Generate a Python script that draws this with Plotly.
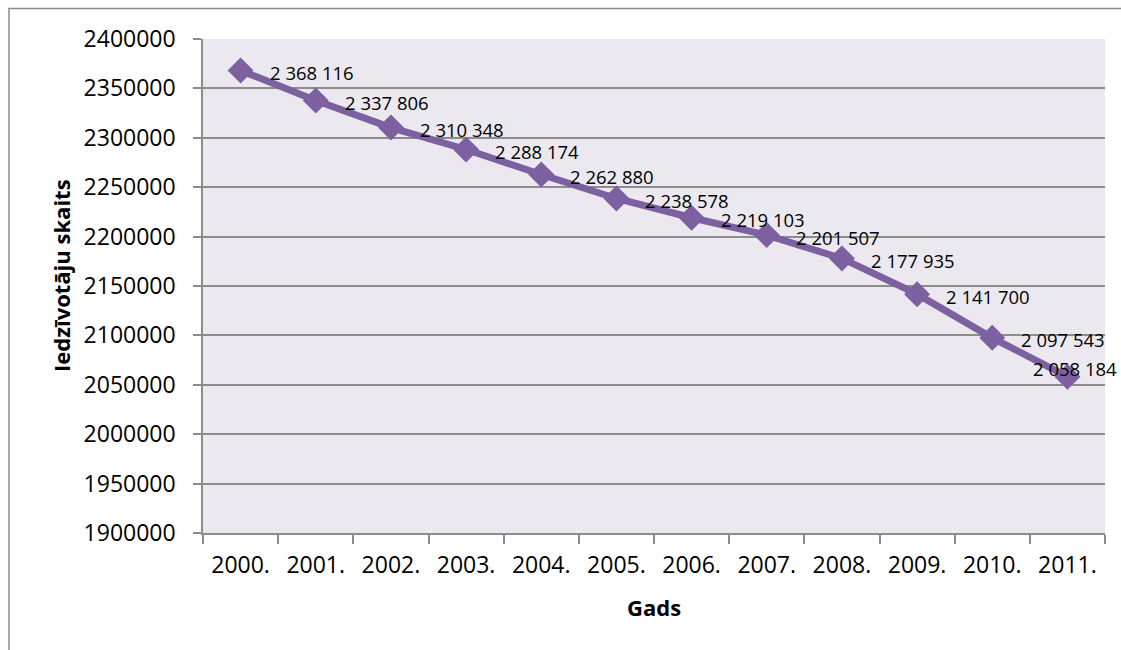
import plotly.graph_objects as go

# Latvia population by year
years = ["2000.", "2001.", "2002.", "2003.", "2004.", "2005.",
         "2006.", "2007.", "2008.", "2009.", "2010.", "2011."]
population = [2368116, 2337806, 2310348, 2288174, 2262880, 2238578,
              2219103, 2201507, 2177935, 2141700, 2097543, 2058184]

y_min, y_max, y_step = 1900000, 2400000, 50000


def fmt_space(v):
    return f"{v:,}".replace(",", " ")


labels = [fmt_space(v) for v in population]

W, H = 1121, 650
L, R, T, B = 203, 16, 39, 117
pw, ph = W - L - R, H - T - B

purple = "#7D60A0"
grid = "#8C8C8C"
font_family = "Open Sans, Noto Sans, sans-serif"

fig = go.Figure()
fig.add_trace(go.Scatter(
    x=years, y=population,
    mode="lines+markers",
    line=dict(color=purple, width=7),
    marker=dict(symbol="diamond", size=20, color=purple),
    showlegend=False,
    hoverinfo="x+y",
))


def px_x(p):
    return (p - L) / pw


def px_y(p):
    return (H - B - p) / ph


# value labels sit to the right of each point; the last one is pulled
# up and left so it stays inside the frame.  Category positions are given
# by index, since labels like "2000." would otherwise be read as numbers.
value_labels = []
for i, (v, txt) in enumerate(zip(population, labels)):
    last = i == len(years) - 1
    value_labels.append(dict(
        x=i, y=v, xref="x", yref="y", text=txt, showarrow=False,
        xanchor="right" if last else "left",
        yanchor="middle",
        xshift=52 if last else 27,
        yshift=8 if last else -2,
        font=dict(size=18.5, color="#000000"),
    ))

fig.update_layout(
    width=W, height=H,
    margin=dict(l=L, r=R, t=T, b=B, pad=0),
    paper_bgcolor="white",
    plot_bgcolor="#EBE9EF",
    font=dict(family=font_family, color="#000000"),
    xaxis=dict(
        type="category",
        tickson="boundaries",
        ticks="outside", ticklen=9, tickwidth=1.5, tickcolor=grid,
        showgrid=False,
        showline=True, linecolor=grid, linewidth=1.5,
        tickfont=dict(size=23),
        ticklabelstandoff=11,
        range=[-0.5, len(years) - 0.5],
        zeroline=False,
    ),
    yaxis=dict(
        range=[y_min, y_max],
        dtick=y_step,
        tick0=y_min,
        tickformat="d",
        ticks="outside", ticklen=8, tickwidth=1.5, tickcolor=grid,
        showgrid=True, gridcolor=grid, gridwidth=1.7,
        showline=True, linecolor=grid, linewidth=1.5,
        tickfont=dict(size=23),
        ticklabelstandoff=13,
        zeroline=False,
    ),
    annotations=value_labels + [
        dict(text="<b>Gads</b>", xref="paper", yref="paper",
             x=0.5, y=px_y(607), xanchor="center", yanchor="middle",
             showarrow=False, font=dict(size=22)),
        dict(text="<b>Iedzīvotāju skaits</b>", xref="paper", yref="paper",
             x=px_x(61), y=px_y(276), xanchor="center", yanchor="middle",
             textangle=-90, showarrow=False, font=dict(size=22)),
    ],
    shapes=[
        dict(type="rect", xref="paper", yref="paper",
             x0=px_x(9), x1=px_x(1130), y0=px_y(665), y1=px_y(8.5),
             line=dict(color="#8C8C8C", width=1.5), fillcolor="rgba(0,0,0,0)",
             layer="below"),
    ],
)

fig.write_html("out.html")
